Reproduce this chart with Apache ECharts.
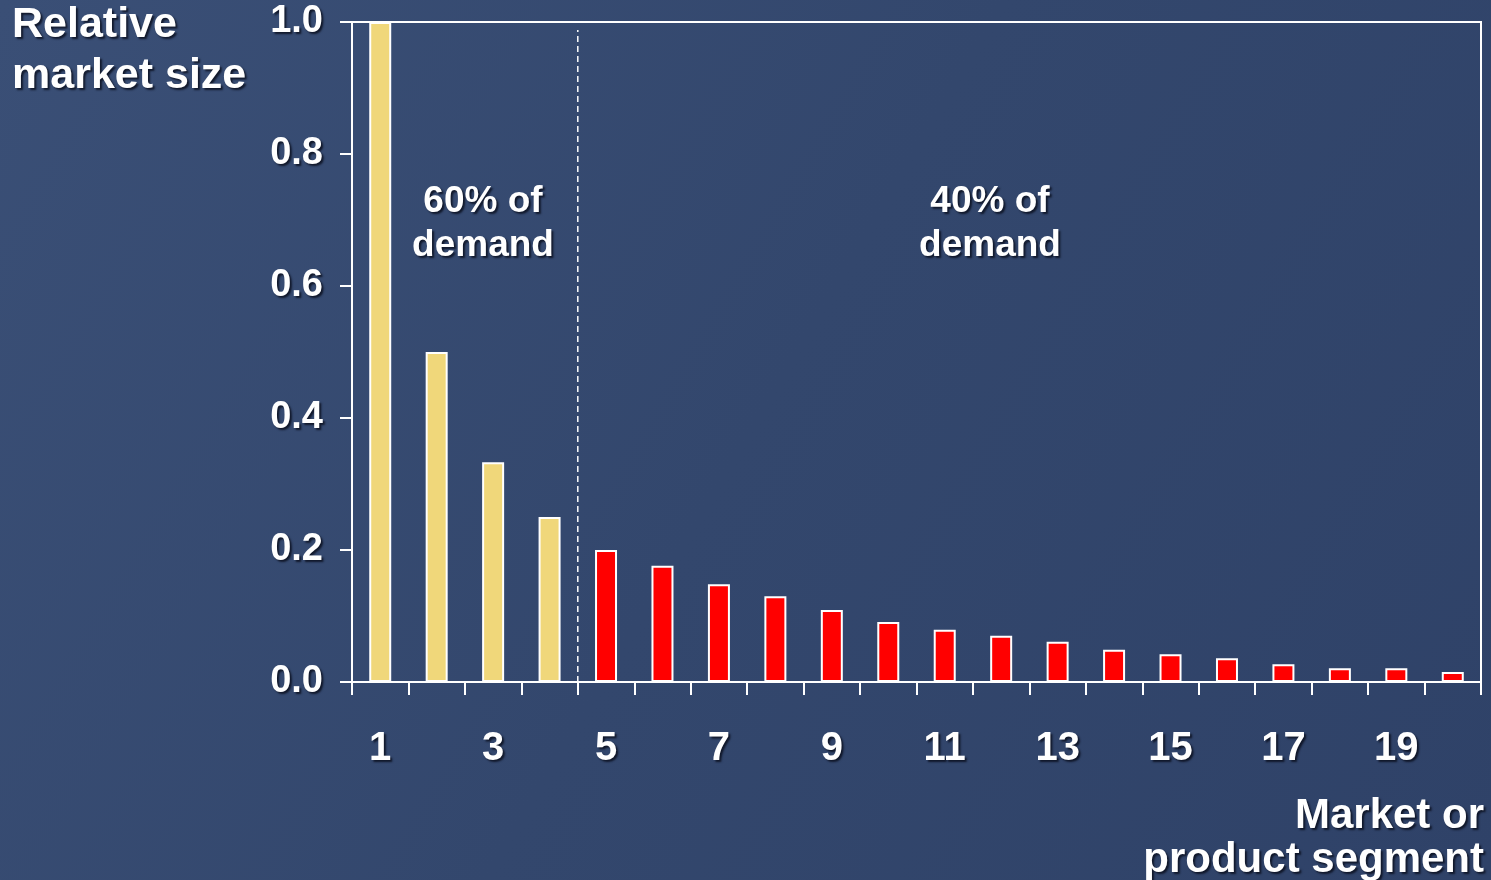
<!DOCTYPE html>
<html>
<head>
<meta charset="utf-8">
<script src="https://cdn.jsdelivr.net/npm/echarts@6/dist/echarts.min.js"></script>
<style>
html,body{margin:0;padding:0;background:#34496f;}
#c{width:1491px;height:880px;}
</style>
</head>
<body>
<div id="c"></div>
<script>
const categories = ['1','2','3','4','5','6','7','8','9','10','11','12','13','14','15','16','17','18','19','20'];
const values = [1.0, 0.5, 0.333, 0.25, 0.2, 0.176, 0.148, 0.13, 0.109, 0.091, 0.079, 0.07, 0.061, 0.049, 0.042, 0.036, 0.027, 0.021, 0.021, 0.015];
const headCount = 4; // first segments carrying 60% of demand
const yTicks = [0, 0.2, 0.4, 0.6, 0.8, 1.0];
const dividerLine = [[4, 0], [4, 0.988]];
const yTitle = 'Relative\nmarket size';
const xTitle = 'Market or\nproduct segment';
const noteLeft = '60% of\ndemand';
const noteRight = '40% of\ndemand';

const FONT = '"Liberation Sans", Arial, sans-serif';
const shadow = {textShadowColor: 'rgba(10,15,30,0.85)', textShadowBlur: 2, textShadowOffsetX: 2, textShadowOffsetY: 2};
const YELLOW = '#F0D77A', RED = '#FF0000';

const chart = echarts.init(document.getElementById('c'));
chart.setOption({
  backgroundColor: {
    type: 'linear', x: 0, y: 0, x2: 1, y2: 1,
    colorStops: [{offset: 0, color: '#3a4f76'}, {offset: 0.5, color: '#33476d'}, {offset: 1, color: '#2f4268'}]
  },
  animation: false,
  grid: {left: 352, right: 10, top: 22, bottom: 198, show: true, borderColor: '#ffffff', borderWidth: 2, containLabel: false},
  xAxis: [{
    type: 'category', data: categories,
    boundaryGap: true,
    axisLine: {lineStyle: {color: '#ffffff', width: 2}},
    axisTick: {show: true, length: 13, lineStyle: {color: '#ffffff', width: 2}, alignWithLabel: false, interval: 0},
    axisLabel: Object.assign({color: '#ffffff', fontSize: 40, fontWeight: 'bold', fontFamily: FONT, margin: 47, interval: 1}, shadow),
    splitLine: {show: false}
  }, {
    type: 'value', min: 0, max: categories.length, show: false
  }],
  yAxis: {
    type: 'value', min: 0, max: 1, interval: 0.2,
    axisLine: {show: true, lineStyle: {color: '#ffffff', width: 2}},
    axisTick: {show: true, length: 12, lineStyle: {color: '#ffffff', width: 2}},
    axisLabel: Object.assign({color: '#ffffff', fontSize: 38, fontWeight: 'bold', fontFamily: FONT, margin: 29, padding: [4, 0, 0, 0],
      formatter: v => yTicks.includes(Math.round(v*10)/10) ? v.toFixed(1) : ''}, shadow),
    splitLine: {show: false}
  },
  series: [{
    type: 'bar', xAxisIndex: 0,
    data: values.map((v, i) => ({value: v, itemStyle: {color: i < headCount ? YELLOW : RED}})),
    barWidth: 22,
    itemStyle: {borderColor: '#ffffff', borderWidth: 2}
  }, {
    type: 'line', xAxisIndex: 1,
    data: dividerLine, symbol: 'none',
    lineStyle: {color: '#ffffff', width: 1.5, type: [6, 4]}
  }],
  graphic: [
    {type: 'text', x: 12, y: 0, style: Object.assign({text: yTitle, fill: '#fff', font: 'bold 43px ' + FONT, lineHeight: 51}, shadow)},
    {type: 'text', x: 1484, y: 794, style: Object.assign({text: xTitle, fill: '#fff', font: 'bold 42px ' + FONT, lineHeight: 44, align: 'right'}, shadow)},
    {type: 'text', x: 483, y: 180, style: Object.assign({text: noteLeft, fill: '#fff', font: 'bold 37px ' + FONT, lineHeight: 44, align: 'center'}, shadow)},
    {type: 'text', x: 990, y: 180, style: Object.assign({text: noteRight, fill: '#fff', font: 'bold 37px ' + FONT, lineHeight: 44, align: 'center'}, shadow)}
  ]
});
</script>
</body>
</html>
